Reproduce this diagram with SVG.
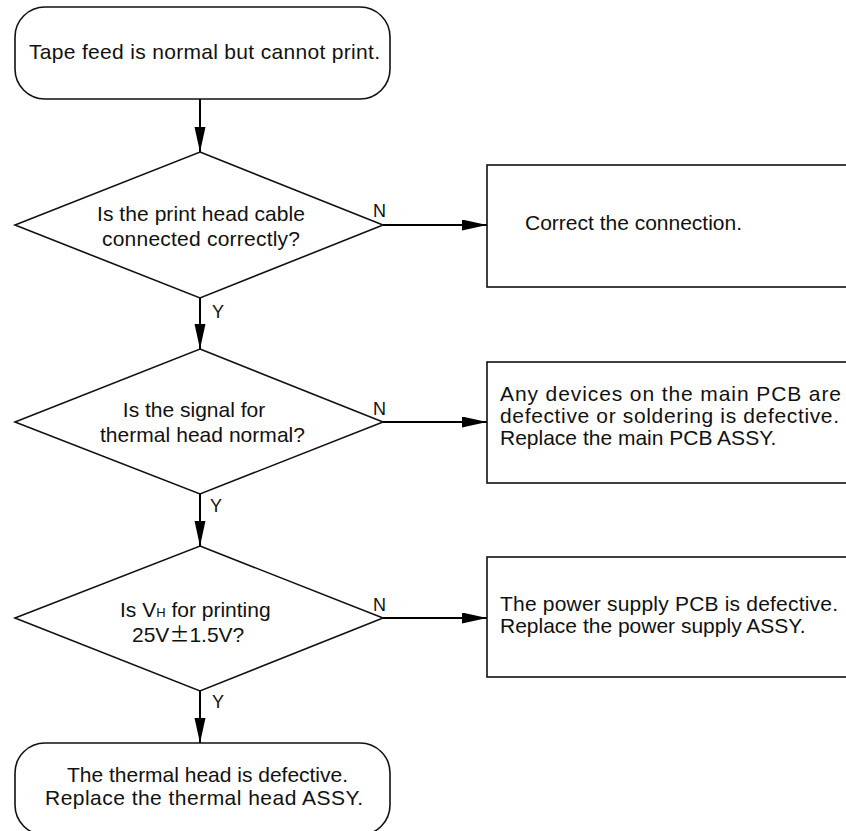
<svg xmlns="http://www.w3.org/2000/svg" width="846" height="831" viewBox="0 0 846 831">
<defs>
<style>
.shape{fill:#fff;stroke:#111;stroke-width:1.6}
.conn{fill:none;stroke:#000;stroke-width:2}
text{font-family:"Liberation Sans",Arial,sans-serif;font-size:21px;fill:#111}
.lbl{font-size:18px}
.mid{text-anchor:middle}
</style>
<marker id="arr" markerUnits="userSpaceOnUse" markerWidth="26" markerHeight="12" refX="25" refY="5.5" orient="auto">
<path d="M0,0 L25,5.5 L0,11 z" fill="#000"/>
</marker>
</defs>
<rect width="846" height="831" fill="#fff"/>

<g id="start">
<rect class="shape" x="15" y="7" width="375" height="92" rx="30" ry="30"/>
<text x="29" y="59" textLength="351" lengthAdjust="spacing">Tape feed is normal but cannot print.</text>
</g>

<g id="q1">
<polygon class="shape" points="200,152 383,225 200,298 15,225"/>
<text x="97" y="221" textLength="208" lengthAdjust="spacing">Is the print head cable</text>
<text x="102" y="246" textLength="198" lengthAdjust="spacing">connected correctly?</text>
</g>

<g id="a1">
<rect class="shape" x="487" y="165" width="380" height="122"/>
<text x="525" y="230" textLength="217" lengthAdjust="spacing">Correct the connection.</text>
</g>

<g id="q2">
<polygon class="shape" points="200,349 383,422 200,494 15,422"/>
<text class="mid" x="194" y="417">Is the signal for</text>
<text x="100" y="442" textLength="205" lengthAdjust="spacing">thermal head normal?</text>
</g>

<g id="a2">
<rect class="shape" x="487" y="362" width="380" height="121"/>
<text x="500" y="401" font-size="22" textLength="341" lengthAdjust="spacing">Any devices on the main PCB are</text>
<text x="500" y="423" font-size="22" textLength="339" lengthAdjust="spacing">defective or soldering is defective.</text>
<text x="500" y="445">Replace the main PCB ASSY.</text>
</g>

<g id="q3">
<polygon class="shape" points="200,546 383,618 200,691 15,618"/>
<text x="120" y="617">Is V<tspan font-size="13">H</tspan> for printing</text>
<text x="132" y="642">25V<tspan font-family="'Noto Sans CJK JP',sans-serif" font-size="20">±</tspan>1.5V?</text>
</g>

<g id="a3">
<rect class="shape" x="487" y="557" width="380" height="120"/>
<text x="500" y="611" textLength="338" lengthAdjust="spacing">The power supply PCB is defective.</text>
<text x="500" y="633">Replace the power supply ASSY.</text>
</g>

<g id="end">
<rect class="shape" x="15" y="743" width="375" height="92" rx="30" ry="30"/>
<text x="67" y="782" textLength="281" lengthAdjust="spacing">The thermal head is defective.</text>
<text x="45" y="805" textLength="318" lengthAdjust="spacing">Replace the thermal head ASSY.</text>
</g>

<g id="connectors">
<line class="conn" x1="200" y1="99" x2="200" y2="152" marker-end="url(#arr)"/>
<line class="conn" x1="200" y1="298" x2="200" y2="349" marker-end="url(#arr)"/>
<line class="conn" x1="200" y1="494" x2="200" y2="546" marker-end="url(#arr)"/>
<line class="conn" x1="200" y1="691" x2="200" y2="743" marker-end="url(#arr)"/>
<line class="conn" x1="383" y1="225" x2="487" y2="225" marker-end="url(#arr)"/>
<line class="conn" x1="383" y1="422" x2="487" y2="422" marker-end="url(#arr)"/>
<line class="conn" x1="383" y1="618" x2="487" y2="618" marker-end="url(#arr)"/>
<text class="lbl" x="373" y="217">N</text>
<text class="lbl" x="373" y="415">N</text>
<text class="lbl" x="373" y="611">N</text>
<text class="lbl" x="212" y="318">Y</text>
<text class="lbl" x="210" y="512">Y</text>
<text class="lbl" x="212" y="708">Y</text>
</g>
</svg>
